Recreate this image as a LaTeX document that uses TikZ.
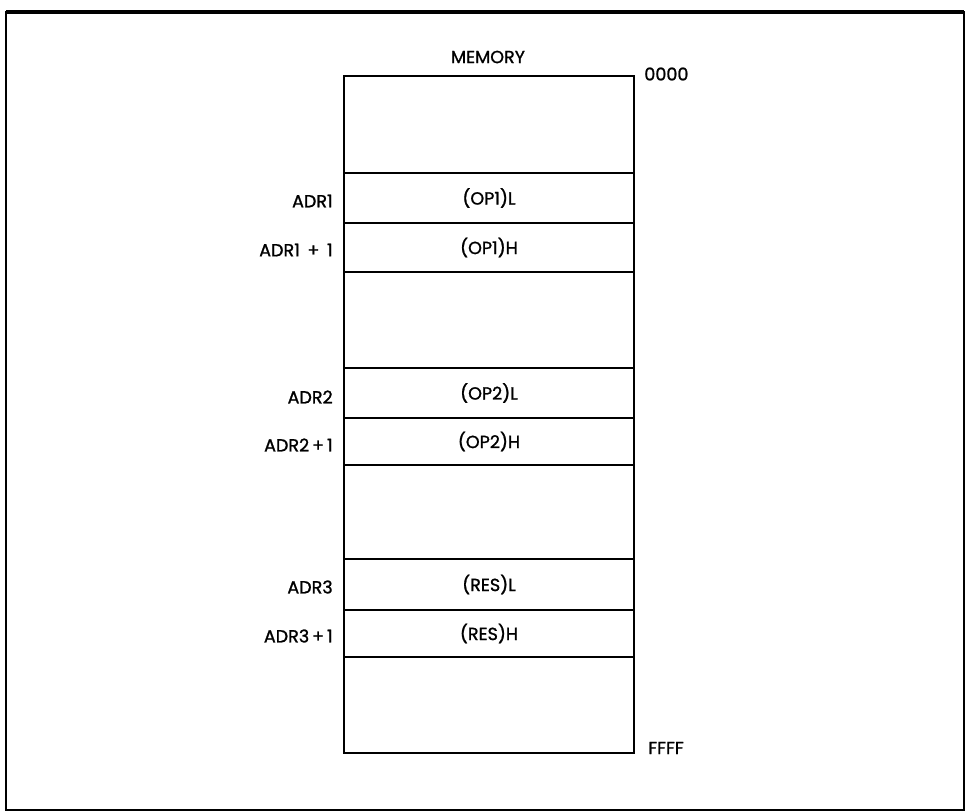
\documentclass[tikz,border=0pt]{standalone}
\usepackage{fontspec}
\setmainfont{Poppins}[FakeBold=1.2]
\begin{document}
\begin{tikzpicture}[x=0.02cm, y=-0.02cm, line width=1.5pt,
    cell/.style={rectangle, draw, minimum width=5.8cm, inner sep=0pt, font=\fontsize{10}{11}\selectfont},
    addr/.style={anchor=east, inner sep=0pt, font=\fontsize{10}{11}\selectfont},
    bound/.style={anchor=west, inner sep=0pt, font=\fontsize{10}{11}\selectfont}]

    \useasboundingbox (0,0) rectangle (968,812);
    \draw[line width=1pt] (6,12) rectangle (964,810);
    \draw[line width=2.4pt] (6,12) -- (964,12);

    \node[font=\fontsize{10}{11}\selectfont] at (488,57) (title) {MEMORY};

    \node[cell, minimum height=1.94cm] at (489,124.5) (top) {};
    \node[cell, minimum height=1.00cm] at (489,198) (op1l) {(OP1)L};
    \node[cell, minimum height=0.98cm] at (489,247.5) (op1h) {(OP1)H};
    \node[cell, minimum height=1.92cm] at (489,320) (gap1) {};
    \node[cell, minimum height=1.00cm] at (489,393) (op2l) {(OP2)L};
    \node[cell, minimum height=0.94cm] at (489,441.5) (op2h) {(OP2)H};
    \node[cell, minimum height=1.88cm] at (489,512) (gap2) {};
    \node[cell, minimum height=1.02cm] at (489,584.5) (resl) {(RES)L};
    \node[cell, minimum height=0.94cm] at (489,633.5) (resh) {(RES)H};
    \node[cell, minimum height=1.92cm] at (489,705) (bottom) {};

    \node[bound] at (643,74) (first) {0000};
    \node[bound] at (647,748) (last) {FFFF};

    \node[addr] at (334,201) (adr1) {ADR1};
    \node[addr] at (334,250) (adr1p) {ADR1 \,+\, 1};
    \node[addr] at (334,397) (adr2) {ADR2};
    \node[addr] at (334,445) (adr2p) {ADR2\,+\,1};
    \node[addr] at (334,587) (adr3) {ADR3};
    \node[addr] at (334,636) (adr3p) {ADR3\,+\,1};

\end{tikzpicture}
\end{document}
